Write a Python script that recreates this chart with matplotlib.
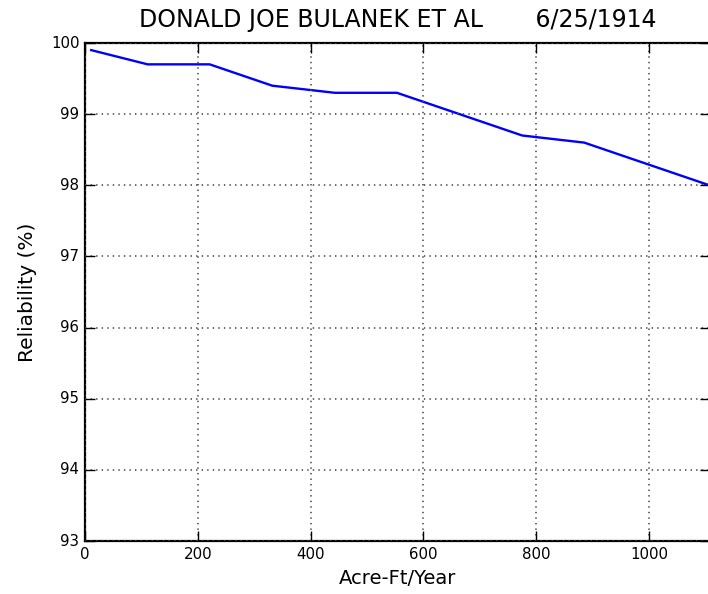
import matplotlib
matplotlib.use('Agg')
import matplotlib.pyplot as plt

# Yield (acre-ft/year) versus reliability of supply
acre_ft = [11, 111, 221, 332, 443, 553, 664, 775, 885, 996, 1107]
reliability = [99.9, 99.7, 99.7, 99.4, 99.3, 99.3, 99.0, 98.7, 98.6, 98.3, 98.0]

titulo = 'DONALD JOE BULANEK ET AL       6/25/1914'

plt.style.use('classic')
plt.rcParams['font.family'] = 'DejaVu Sans'

fig = plt.figure(figsize=(7.08, 5.94), dpi=100, facecolor='white')
ax = fig.add_axes([85 / 708, 53 / 594, 625 / 708, 498 / 594])

ax.plot(acre_ft, reliability, color='b', linewidth=1.7)

ax.set_xlim(0, 1108)
ax.set_ylim(93, 100)
ax.set_xticks([0, 200, 400, 600, 800, 1000])
ax.set_yticks(range(93, 101))
ax.ticklabel_format(useOffset=False)
ax.grid(True, color='0.3', linestyle=':', linewidth=1.2)
ax.tick_params(labelsize=10.8, direction='in', length=7, width=1)
for s in ax.spines.values():
    s.set_linewidth(1.6)

ax.set_xlabel('Acre-Ft/Year', fontsize=14)
ax.set_ylabel('Reliability (%)', fontsize=14.5, labelpad=10)
ax.set_title(titulo, fontsize=17, y=1.019)

fig.savefig('out.png', dpi=100, facecolor='white')
